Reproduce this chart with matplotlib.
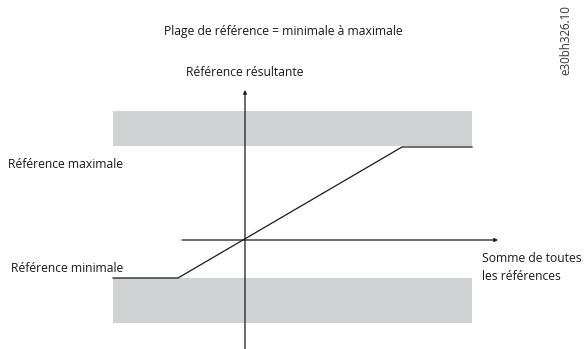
import matplotlib
matplotlib.use("Agg")
from matplotlib import pyplot as plt

plt.rcParams["font.family"] = ["Open Sans", "DejaVu Sans"]

# resulting reference vs. sum of all references (axis origin = crossing point)
sum_refs = [-132, -67, 157, 227]
result_ref = [-38, -38, 93, 93]
ref_min = -38
ref_max = 93
band_x = (-132, 227)

title = "Plage de référence = minimale à maximale"
y_label = "Référence résultante"
x_label = ["Somme de toutes", "les références"]
max_label = "Référence maximale"
min_label = "Référence minimale"
code = "e30bh326.10"

fig = plt.figure(figsize=(5.84, 3.49), dpi=100)
ax = fig.add_axes([0, 0, 1, 1])
ax.set_xlim(-245, 339)
ax.set_ylim(-109, 240)
ax.axis("off")

gray = "#d1d2d4"
ax.fill_between(band_x, ref_max + 1, ref_max + 36, color=gray, lw=0, zorder=1)
ax.fill_between(band_x, ref_min - 45, ref_min, color=gray, lw=0, zorder=1)

# axes with small arrow heads
ax.annotate("", xy=(253, 0), xytext=(-63, 0),
            arrowprops=dict(arrowstyle="-|>", lw=0.9, color="#1a1a1a",
                            mutation_scale=5, shrinkA=0, shrinkB=0), zorder=3)
ax.annotate("", xy=(0, 150), xytext=(0, -112),
            arrowprops=dict(arrowstyle="-|>", lw=0.9, color="#1a1a1a",
                            mutation_scale=5, shrinkA=0, shrinkB=0), zorder=3)

ax.plot(sum_refs, result_ref, color="#1a1a1a", lw=0.9, zorder=4)

fs = 8.7
txt = "#1a1a1a"
ax.text(38, 208, title, ha="center", va="center", fontsize=fs, color=txt)
ax.text(0, 168, y_label, ha="center", va="center", fontsize=fs, color=txt)
ax.text(-237, 75, max_label, ha="left", va="center", fontsize=fs, color=txt)
ax.text(-234, -29, min_label, ha="left", va="center", fontsize=fs, color=txt)
for i, line in enumerate(x_label):
    ax.text(237, -18 - 19 * i, line, ha="left", va="center", fontsize=fs, color=txt)
ax.text(321, 200, code, ha="center", va="center", rotation=90, fontsize=8.3,
        color="#333333")

fig.savefig("out.png", dpi=100)
